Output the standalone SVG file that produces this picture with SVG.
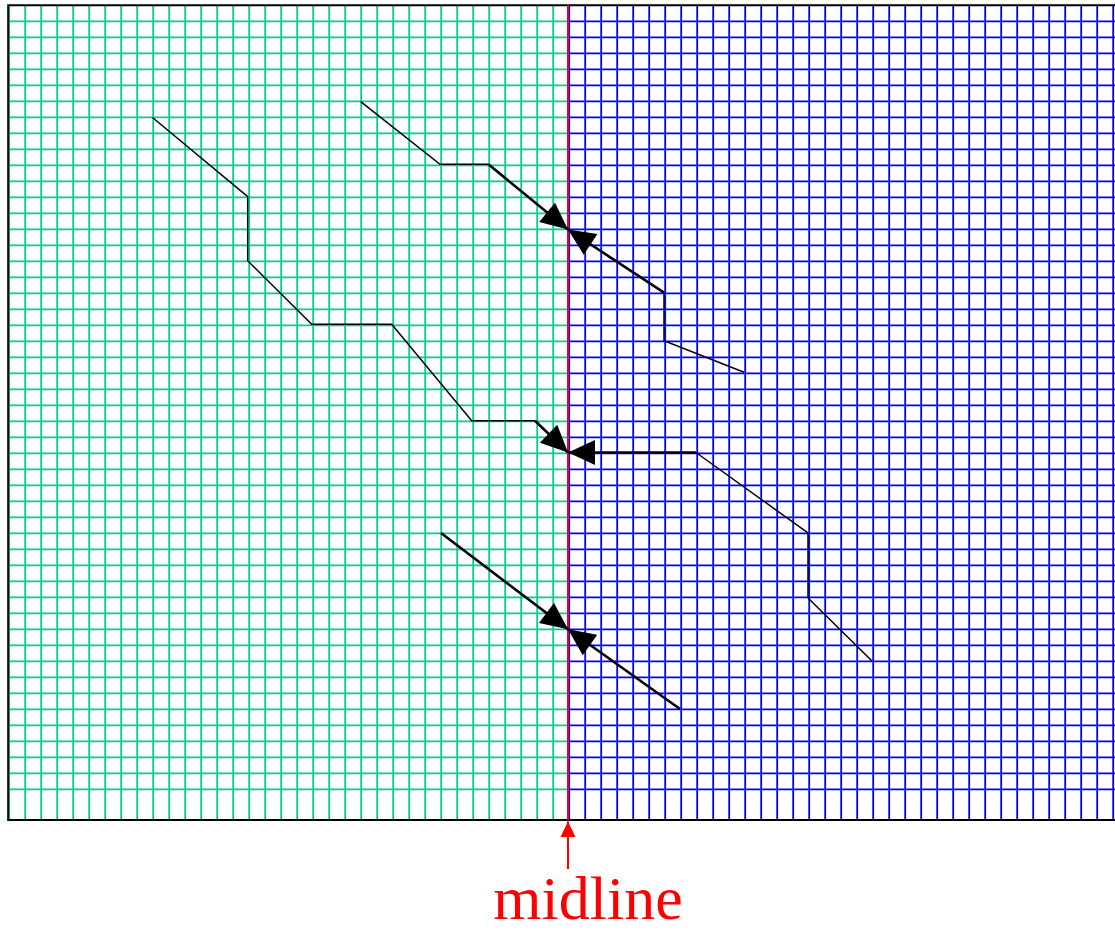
<svg xmlns="http://www.w3.org/2000/svg" width="1115" height="931" viewBox="0 0 1115 931">
<style>
.g{fill:none;stroke:#00cc99;stroke-width:1.8}
.b{fill:none;stroke:#0000ff;stroke-width:1.8}
.thin{fill:none;stroke:#000;stroke-width:1.5;stroke-linejoin:miter}
.thick{fill:none;stroke:#000;stroke-width:2.6;marker-end:url(#ah)}
</style>
<defs>
<marker id="ah" markerUnits="userSpaceOnUse" markerWidth="28" markerHeight="26" refX="27" refY="12.5" orient="auto" overflow="visible">
<path d="M0,0 L27,12.5 L0,25 z" fill="#000"/>
</marker>
<marker id="rah" markerUnits="userSpaceOnUse" markerWidth="16" markerHeight="16" refX="15.5" refY="7.5" orient="auto" overflow="visible">
<path d="M0,0 L15.5,7.5 L0,15 z" fill="#ff0000"/>
</marker>
</defs>
<rect width="1115" height="931" fill="#fff"/>
<g id="grid">
<path class="g" d="M9.2 5V820m16-815V820m16-815V820m16-815V820m16-815V820m16-815V820m16-815V820m16-815V820m16-815V820m16-815V820m16-815V820
m16-815V820m16-815V820m16-815V820m16-815V820m16-815V820m16-815V820m16-815V820m16-815V820m16-815V820m16-815V820
m16-815V820m16-815V820m16-815V820m16-815V820m16-815V820m16-815V820m16-815V820m16-815V820m16-815V820m16-815V820
m16-815V820m16-815V820m16-815V820m16-815V820"/>
<path class="g" d="M8 21.4H568m-560 16H568m-560 16H568m-560 16H568m-560 16H568m-560 16H568m-560 16H568m-560 16H568m-560 16H568m-560 16H568
m-560 16H568m-560 16H568m-560 16H568m-560 16H568m-560 16H568m-560 16H568m-560 16H568m-560 16H568m-560 16H568m-560 16H568
m-560 16H568m-560 16H568m-560 16H568m-560 16H568m-560 16H568m-560 16H568m-560 16H568m-560 16H568m-560 16H568m-560 16H568
m-560 16H568m-560 16H568m-560 16H568m-560 16H568m-560 16H568m-560 16H568m-560 16H568m-560 16H568m-560 16H568m-560 16H568
m-560 16H568m-560 16H568m-560 16H568m-560 16H568m-560 16H568m-560 16H568m-560 16H568m-560 16H568m-560 16H568"/>
<path class="b" d="M569.2 5V820m16-815V820m16-815V820m16-815V820m16-815V820m16-815V820m16-815V820m16-815V820m16-815V820m16-815V820m16-815V820
m16-815V820m16-815V820m16-815V820m16-815V820m16-815V820m16-815V820m16-815V820m16-815V820m16-815V820m16-815V820
m16-815V820m16-815V820m16-815V820m16-815V820m16-815V820m16-815V820m16-815V820m16-815V820m16-815V820m16-815V820
m16-815V820m16-815V820m16-815V820m16-815V820"/>
<path class="b" d="M568 21.4H1115m-547 16H1115m-547 16H1115m-547 16H1115m-547 16H1115m-547 16H1115m-547 16H1115m-547 16H1115m-547 16H1115m-547 16H1115
m-547 16H1115m-547 16H1115m-547 16H1115m-547 16H1115m-547 16H1115m-547 16H1115m-547 16H1115m-547 16H1115m-547 16H1115m-547 16H1115
m-547 16H1115m-547 16H1115m-547 16H1115m-547 16H1115m-547 16H1115m-547 16H1115m-547 16H1115m-547 16H1115m-547 16H1115m-547 16H1115
m-547 16H1115m-547 16H1115m-547 16H1115m-547 16H1115m-547 16H1115m-547 16H1115m-547 16H1115m-547 16H1115m-547 16H1115m-547 16H1115
m-547 16H1115m-547 16H1115m-547 16H1115m-547 16H1115m-547 16H1115m-547 16H1115m-547 16H1115m-547 16H1115m-547 16H1115"/>
</g>
<g id="frame" fill="none" stroke="#000" stroke-width="2">
<path d="M8.2 820V5.2H1115"/>
<path d="M7.2 820H1115"/>
</g>
<g id="midline">
<line x1="568" y1="5" x2="568" y2="820" stroke="#ff0000" stroke-width="2"/>
</g>
<g id="connectors">
<path class="thin" d="M152.5 117.5L247.7 196.7V260.7L311.7 324.3H391.7L471.7 420.7H535"/>
<path class="thick" d="M535 420.7L568 452.5"/>
<path class="thin" d="M360.7 101.7L440 164.3H488.4"/>
<path class="thick" d="M488.4 164.3L568 229.5"/>
<path class="thin" d="M744 372.3L664 340.7V292.7"/>
<path class="thick" d="M664 292.7L568 229.5"/>
<path class="thin" d="M872 661L808 598V533L696 452.5"/>
<path class="thick" d="M696 452.5H568"/>
<path class="thick" d="M441 533L568 629.3"/>
<path class="thick" d="M680 709L568 629.3"/>
<line id="midline-pointer" x1="568" y1="869" x2="568" y2="821.5" stroke="#ff0000" stroke-width="2" marker-end="url(#rah)"/>
</g>
<g id="label">
<text x="588" y="919" font-family="'Liberation Serif', 'Times New Roman', serif" font-size="62" fill="#ff0000" text-anchor="middle">midline</text>
</g>
</svg>
